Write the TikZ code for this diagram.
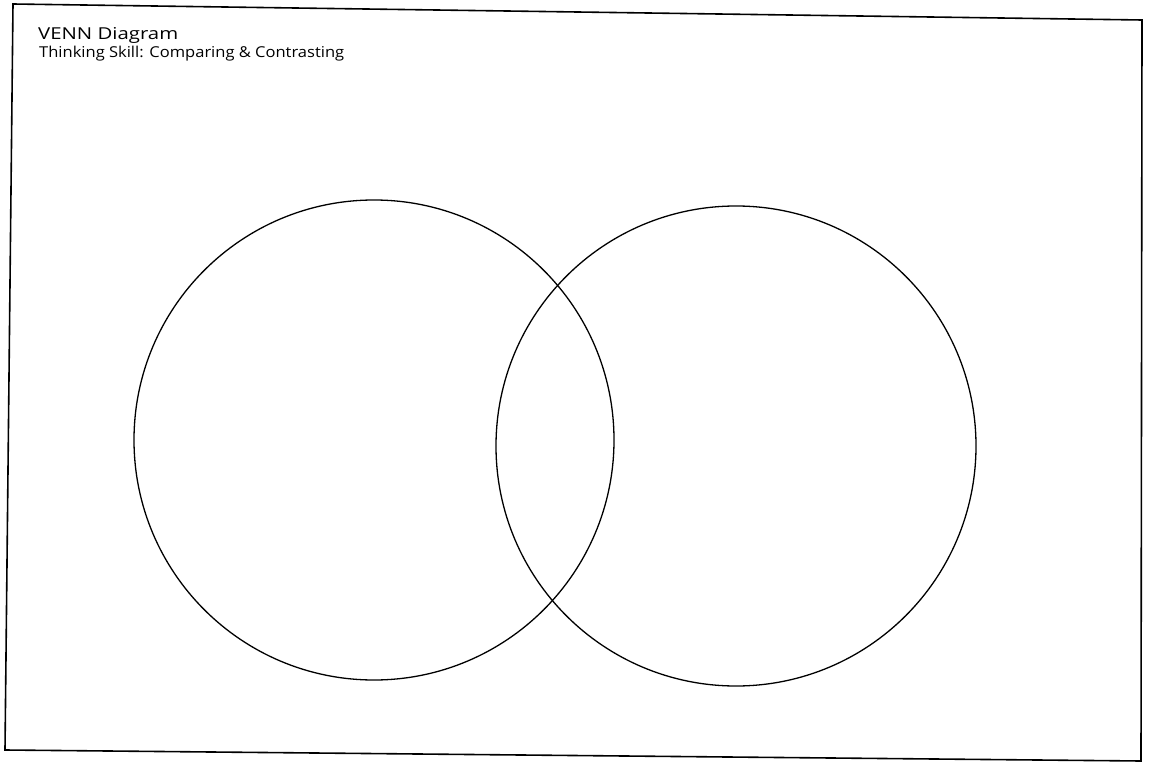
\documentclass[tikz,border=0pt]{standalone}
\usepackage{fontspec}
\setmainfont{Open Sans}
\begin{document}
\begin{tikzpicture}[x=1pt,y=-1pt,
  frameline/.style={line width=1.6pt, line join=miter},
  vennset/.style={circle, draw, line width=1.3pt, inner sep=0pt, minimum size=480pt},
  titletext/.style={anchor=base west, inner sep=0pt, font=\fontsize{13.5}{16}\selectfont},
  subtext/.style={anchor=base west, inner sep=0pt, font=\fontsize{11}{13}\selectfont}]
\useasboundingbox (0,0) rectangle (1149,762);
\fill[white] (0,0) rectangle (1149,762);
\coordinate (tl) at (13,4);
\coordinate (tr) at (1142,20);
\coordinate (br) at (1141,761);
\coordinate (bl) at (5,750);
\draw[frameline] (tl) -- (tr) -- (br) -- (bl) -- cycle;
\node[titletext] (title) at (38,40) {\resizebox*{140pt}{16pt}{VENN Diagram}};
\node[subtext] (sub) at (39,58) {\resizebox*{305pt}{15pt}{Thinking Skill: Comparing \& Contrasting}};
\node[vennset] (left) at (374,440) {};
\node[vennset] (right) at (736,446) {};
\end{tikzpicture}
\end{document}
